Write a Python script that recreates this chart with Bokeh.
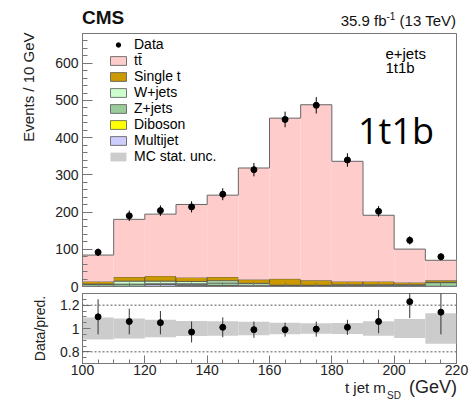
import numpy as np
from math import pi
from bokeh.plotting import figure
from bokeh.layouts import column
from bokeh.models import (FixedTicker, Label, Legend, LegendItem, Range1d, Span,
                          ColumnDataSource, Div)
from bokeh.embed import file_html
from bokeh.resources import INLINE

# ---------------- data ----------------
bin_edges = [100, 110, 120, 130, 140, 150, 160, 170, 180, 190, 200, 210, 220]
bin_centers = [105, 115, 125, 135, 145, 155, 165, 175, 185, 195, 205, 215]
data_vals = [92, 190, 204, 214, 248, 314, 449, 487, 340, 202, 124, 80]
data_err = [10, 14, 14, 15, 16, 18, 21, 22, 18, 14, 11, 9]
ttbar = [71, 155, 166, 196, 220, 300, 432, 472, 323, 178, 90, 54]
single_t = [7, 11, 14, 11, 10, 10, 17, 13, 9, 9, 6, 5]
wjets = [1, 8, 7, 6, 6, 5, 1, 1, 1, 1, 1, 1]
zjets = [5, 6, 2, 3, 7, 3, 2, 2, 3, 3, 3, 10]
diboson = [0.5, 0.5, 0.5, 0.5, 0.5, 0.5, 0.5, 0.5, 0.5, 0.5, 0.5, 0.5]
multijet = [0, 0, 5, 4, 2, 0, 0, 0, 0, 0, 0, 0]
ratio_vals = [1.10, 1.06, 1.05, 0.97, 1.01, 0.99, 0.99, 0.995, 1.01, 1.06, 1.23, 1.14]
ratio_err = [0.15, 0.11, 0.10, 0.09, 0.085, 0.07, 0.06, 0.065, 0.065, 0.10, 0.14, 0.19]
mc_rel_unc = [0.095, 0.085, 0.075, 0.065, 0.063, 0.058, 0.05, 0.045, 0.048, 0.063, 0.082, 0.13]

y_major = [0, 100, 200, 300, 400, 500, 600]
x_major = [100, 120, 140, 160, 180, 200, 220]
r_major = [0.8, 1.0, 1.2]

FONT = "Liberation Sans"
AX = "#777777"
TXT = "#222222"
W = 475
BL, BR = 82, 19

left = np.array(bin_edges[:-1], dtype=float)
right = np.array(bin_edges[1:], dtype=float)

# ---------------- header ----------------
header = Div(width=W, height=32, margin=(0, 0, 0, 0), text=(
    '<div style="position:relative;width:%dpx;height:32px;font-family:\'Liberation Sans\';color:#111;">'
    '<span style="position:absolute;left:82px;top:18px;line-height:0;font-size:19px;font-weight:bold;white-space:nowrap">CMS</span>'
    '<span style="position:absolute;right:19px;top:21px;line-height:0;font-size:15px;white-space:nowrap">35.9 fb'
    '<span style="font-size:10px;position:relative;top:-6px">-1</span> (13 TeV)</span>'
    '</div>') % W)

# ---------------- main panel ----------------
p1 = figure(width=W, height=260, x_range=Range1d(100, 220), y_range=Range1d(0, 680),
            output_backend="svg", toolbar_location=None,
            min_border_left=BL, min_border_right=BR, min_border_top=1, min_border_bottom=6)
p1.title = None
p1.grid.visible = False
p1.outline_line_color = AX

layers = [
    ("Multijet", multijet, "#ccccff"),
    ("Diboson", diboson, "#ffff00"),
    ("Z+jets", zjets, "#99cc99"),
    ("W+jets", wjets, "#ccffcc"),
    ("Single t", single_t, "#cc9900"),
]
renderers = {}
bottom = np.zeros(len(bin_centers))
for name, vals, color in layers:
    top = bottom + np.array(vals, dtype=float)
    renderers[name] = p1.quad(left=left, right=right, bottom=bottom, top=top,
                              fill_color=color, line_color="#555555", line_width=0.8)
    bottom = top
top = bottom + np.array(ttbar, dtype=float)
p1.quad(left=left, right=right, bottom=bottom, top=top, fill_color="#ffcccc", line_color=None)
total = top
p1.step(x=bin_edges, y=list(total) + [total[-1]], mode="after", line_color="#666666", line_width=1)

dv = np.array(data_vals, dtype=float)
de = np.array(data_err, dtype=float)
p1.segment(x0=bin_centers, y0=dv - de, x1=bin_centers, y1=dv + de, line_color="black", line_width=1)
r_data = p1.scatter(x=bin_centers, y=data_vals, marker="circle", size=6, fill_color="black", line_color="black")

# legend-only proxies (NaN rows: never drawn in the plot area)
nan_q = dict(left=[np.nan], right=[np.nan], bottom=[np.nan], top=[np.nan])
r_dash = p1.scatter(x=[np.nan], y=[np.nan], marker="dash", angle=pi / 2, size=8, line_color="black", line_width=1)
r_tt_leg = p1.quad(source=ColumnDataSource(dict(nan_q)), left="left", right="right", bottom="bottom", top="top",
                   fill_color="#ffcccc", line_color="#555555", line_width=0.8)
r_unc_leg = p1.quad(source=ColumnDataSource(dict(nan_q)), left="left", right="right", bottom="bottom", top="top",
                    fill_color="#cccccc", line_color=None)

legend = Legend(items=[
    LegendItem(label="Data", renderers=[r_dash, r_data]),
    LegendItem(label="tt\u0304", renderers=[r_tt_leg]),
    LegendItem(label="Single t", renderers=[renderers["Single t"]]),
    LegendItem(label="W+jets", renderers=[renderers["W+jets"]]),
    LegendItem(label="Z+jets", renderers=[renderers["Z+jets"]]),
    LegendItem(label="Diboson", renderers=[renderers["Diboson"]]),
    LegendItem(label="Multijet", renderers=[renderers["Multijet"]]),
    LegendItem(label="MC stat. unc.", renderers=[r_unc_leg]),
], location=(26, 122))
legend.label_text_font = FONT
legend.label_text_font_size = "14px"
legend.label_text_color = "black"
legend.glyph_width = 20
legend.glyph_height = 11
legend.label_height = 16
legend.label_standoff = 6
legend.spacing = 0
legend.padding = 0
legend.margin = 0
legend.border_line_color = None
legend.background_fill_alpha = 0
p1.add_layout(legend)

ax = p1.yaxis[0]
ax.ticker = FixedTicker(ticks=y_major, minor_ticks=list(range(0, 681, 20)))
ax.major_tick_in = 10
ax.major_tick_out = 0
ax.minor_tick_in = 5
ax.minor_tick_out = 0
ax.axis_line_color = AX
ax.major_tick_line_color = AX
ax.minor_tick_line_color = AX
ax.major_label_text_font = FONT
ax.major_label_text_font_size = "14px"
ax.major_label_text_color = TXT
ax.major_label_standoff = 4
# label sits at the top end of the axis (ROOT style): leading no-break spaces push it up
ax.axis_label = "\u00a0" * 35 + "Events / 10 GeV"
ax.axis_label_text_font = FONT
ax.axis_label_text_font_size = "15px"
ax.axis_label_text_font_style = "normal"
ax.axis_label_text_color = TXT
ax.axis_label_standoff = 15

xa = p1.xaxis[0]
xa.ticker = FixedTicker(ticks=[], minor_ticks=list(range(100, 221, 5)))
xa.major_tick_in = 8
xa.major_tick_out = 0
xa.minor_tick_in = 4
xa.minor_tick_out = 0
xa.axis_line_color = AX
xa.major_tick_line_color = AX
xa.minor_tick_line_color = AX
xa.major_label_standoff = 0

p1.add_layout(Label(x=197.2, y=626, text="e+jets", text_font=FONT, text_font_size="15px",
                    text_baseline="alphabetic", text_color="black"))
p1.add_layout(Label(x=197.2, y=588, text="1t1b", text_font=FONT, text_font_size="15px",
                    text_baseline="alphabetic", text_color="black"))
p1.add_layout(Label(x=188.4, y=420, text="1t1b", text_font="Open Sans", text_font_size="36px",
                    text_baseline="alphabetic", text_color="black"))

# ---------------- ratio panel ----------------
p2 = figure(width=W, height=88, x_range=p1.x_range, y_range=Range1d(0.7, 1.3),
            output_backend="svg", toolbar_location=None,
            min_border_left=BL, min_border_right=BR, min_border_top=1, min_border_bottom=17)
p2.title = None
p2.grid.visible = False
p2.outline_line_color = AX

unc = np.array(mc_rel_unc)
p2.quad(left=left, right=right, bottom=1 - unc, top=1 + unc, fill_color="#cccccc", line_color=None)
for lv in r_major[::2]:
    p2.add_layout(Span(location=lv, dimension="width", line_dash="2 2", line_color="#555555", line_width=1))
rv = np.array(ratio_vals)
re_ = np.array(ratio_err)
p2.segment(x0=bin_centers, y0=rv - re_, x1=bin_centers, y1=rv + re_, line_color="#333333", line_width=1)
p2.scatter(x=bin_centers, y=ratio_vals, marker="circle", size=6, fill_color="black", line_color="black")

ya = p2.yaxis[0]
ya.ticker = FixedTicker(ticks=r_major, minor_ticks=[0.7, 0.75, 0.8, 0.85, 0.9, 0.95, 1.0, 1.05, 1.1, 1.15, 1.2, 1.25, 1.3])
ya.major_label_overrides = {0.8: "0.8", 1.0: "1", 1.2: "1.2"}
xb = p2.xaxis[0]
xb.ticker = FixedTicker(ticks=x_major, minor_ticks=list(range(100, 221, 5)))
for a in [ya, xb]:
    a.major_tick_in = 8
    a.major_tick_out = 0
    a.minor_tick_in = 4
    a.minor_tick_out = 0
    a.axis_line_color = AX
    a.major_tick_line_color = AX
    a.minor_tick_line_color = AX
    a.major_label_text_font = FONT
    a.major_label_text_font_size = "14px"
    a.major_label_text_color = TXT
ya.major_label_standoff = 3
xb.major_label_standoff = 1
ya.axis_label = "Data/pred."
ya.axis_label_text_font = FONT
ya.axis_label_text_font_size = "14px"
ya.axis_label_text_font_style = "normal"
ya.axis_label_text_color = TXT
ya.axis_label_standoff = 9

# ---------------- footer (x axis title) ----------------
footer = Div(width=W, height=21, margin=(0, 0, 0, 0), text=(
    '<div style="position:relative;width:%dpx;height:21px;font-family:\'Liberation Sans\';color:#222;">'
    '<span style="position:absolute;left:345px;top:8px;line-height:0;font-size:15px;white-space:nowrap">t jet m</span>'
    '<span style="position:absolute;left:387px;top:16px;line-height:0;font-size:10px;white-space:nowrap">SD</span>'
    '<span style="position:absolute;right:18px;top:7px;line-height:0;font-size:18px;white-space:nowrap">(GeV)</span>'
    '</div>') % W)

layout = column(header, p1, p2, footer, spacing=0)
open("out.html", "w").write(file_html(layout, INLINE))
